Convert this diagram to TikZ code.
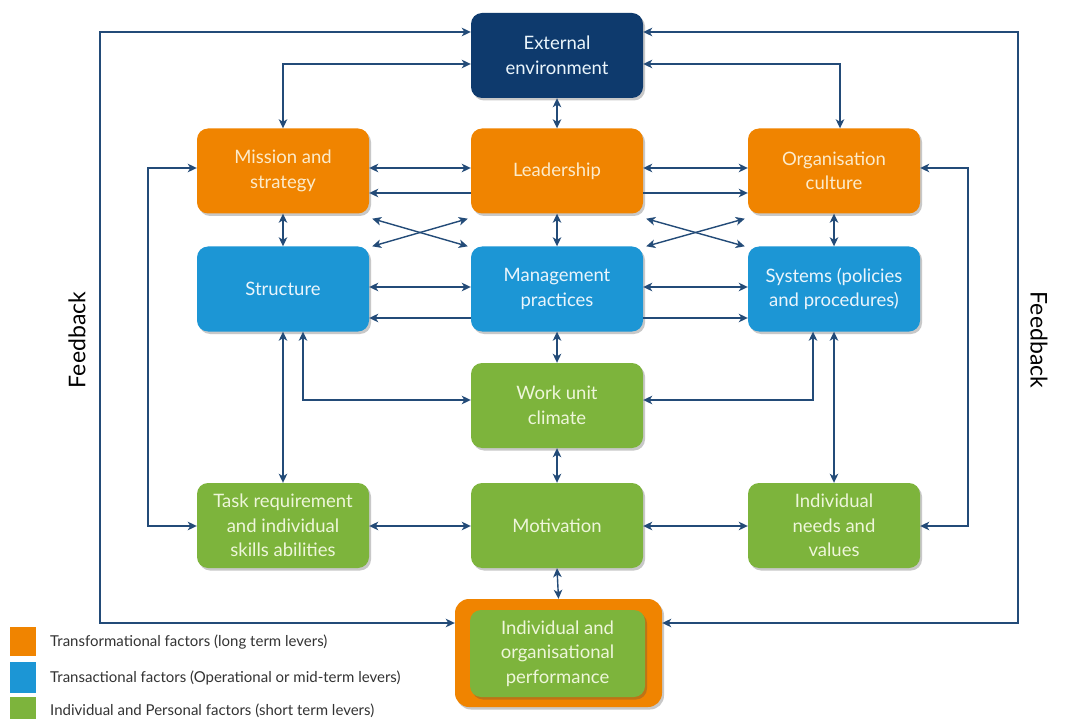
\documentclass[tikz,border=0pt]{standalone}
\usepackage{fontspec}
\setmainfont{Lato}
\usetikzlibrary{arrows.meta,shadows,calc}
\definecolor{navyc}{HTML}{0E3A6D}
\definecolor{orgc}{HTML}{F08400}
\definecolor{bluec}{HTML}{1C96D5}
\definecolor{greenc}{HTML}{7DB43C}
\definecolor{orgtext}{HTML}{FCEBCB}
\definecolor{greentext}{HTML}{EEF6DA}
\definecolor{bluetext}{HTML}{EAF5FC}
\definecolor{linec}{HTML}{234B78}
\definecolor{legtext}{HTML}{333333}
\begin{document}
\begin{tikzpicture}[x=1pt,y=-1pt,
  box/.style={rounded corners=11pt, minimum width=172pt, minimum height=85pt,
    align=center, inner sep=0pt, font=\fontsize{18.5}{24.5}\selectfont,
    drop shadow={shadow xshift=2pt,shadow yshift=-2.5pt,opacity=0.3,fill=black!70}},
  nb/.style={box, fill=navyc, text=bluetext},
  ob/.style={box, fill=orgc, text=orgtext},
  bb/.style={box, fill=bluec, text=bluetext},
  gb/.style={box, fill=greenc, text=greentext},
  con/.style={draw=linec, line width=1.4pt, -{Stealth[length=9pt,width=8.5pt,inset=2.5pt]}},
  bi/.style={draw=linec, line width=1.4pt, {Stealth[length=9pt,width=8.5pt,inset=2.5pt]}-{Stealth[length=9pt,width=8.5pt,inset=2.5pt]}},
  fb/.style={font=\fontsize{23}{27}\selectfont, text=black},
  legbox/.style={minimum width=26pt, inner sep=0pt},
  legtxt/.style={anchor=west, font=\fontsize{15}{16}\selectfont, text=legtext, inner sep=0pt}
]
\useasboundingbox[fill=white] (0,0) rectangle (1068,719);

% helper levels
\coordinate (h32) at (0,32);
\coordinate (h64) at (0,64);
\coordinate (h168) at (0,168);
\coordinate (h193) at (0,193);
\coordinate (h287) at (0,287);
\coordinate (h318) at (0,318);
\coordinate (h400) at (0,400);
\coordinate (h525) at (0,526);
\coordinate (h623) at (0,623);
\coordinate (v100) at (100,0);
\coordinate (v148) at (148,0);
\coordinate (v303) at (303,0);
\coordinate (v813) at (813,0);
\coordinate (v840) at (840,0);
\coordinate (v968) at (968,0);
\coordinate (v1018) at (1018,0);

% boxes
\node[nb] (ext) at (557,55.5) {External\\environment};
\node[ob] (mis) at (283,171) {Mission and\\strategy};
\node[ob] (lea) at (557,171) {Leadership};
\node[ob] (org) at (834,171) {Organisation\\culture};
\node[bb] (str) at (283,289) {Structure};
\node[bb] (man) at (557,289) {Management\\practices};
\node[bb] (sys) at (834,289) {Systems (policies\\and procedures)};
\node[gb] (wuc) at (557,405.5) {Work unit\\climate};
\node[gb] (tas) at (283,525.5) {Task requirement\\and individual\\skills abilities};
\node[gb] (mot) at (557,525.5) {Motivation};
\node[gb] (ind) at (834,525.5) {Individual\\needs and\\values};
\node[fill=orgc, rounded corners=14pt, minimum width=207pt, minimum height=108pt, inner sep=0pt,
  drop shadow={shadow xshift=2pt,shadow yshift=-2.5pt,opacity=0.3,fill=black!70}] (perfo) at (558.5,653) {};
\node[gb, minimum width=175pt, minimum height=87pt] (perf) at (557.5,653.5) {Individual and\\organisational\\performance};

% feedback labels
\node[fb, rotate=90] (fbl) at (77,340) {Feedback};
\node[fb, rotate=-90] (fbr) at (1039,340) {Feedback};

% outer feedback loops
\draw[bi] (ext.west |- h32) -- (v100 |- h32) -- (v100 |- h623) -- (perfo.west |- h623);
\draw[bi] (ext.east |- h32) -- (v1018 |- h32) -- (v1018 |- h623) -- (perfo.east |- h623);

% external links
\draw[bi] (ext.west |- h64) -- (mis.north |- h64) -- (mis.north);
\draw[bi] (ext.east |- h64) -- (v840 |- h64) -- (v840 |- org.north);
\draw[bi] (ext.south) -- (lea.north);

% row 1 links
\draw[bi] (mis.east |- h168) -- (lea.west |- h168);
\draw[con] (lea.west |- h193) -- (mis.east |- h193);
\draw[bi] (lea.east |- h168) -- (org.west |- h168);
\draw[con] (lea.east |- h193) -- (org.west |- h193);

% crosses
\draw[bi] ($(mis.south east)+(3,5)$) -- ($(man.north west)+(-3,0)$);
\draw[bi] ($(str.north east)+(3,0)$) -- ($(lea.south west)+(-3,5)$);
\draw[bi] ($(lea.south east)+(3,5)$) -- ($(sys.north west)+(-3,0)$);
\draw[bi] ($(man.north east)+(3,0)$) -- ($(org.south west)+(-3,5)$);

% verticals row1-row2
\draw[bi] (mis.south) -- (str.north);
\draw[bi] (lea.south) -- (man.north);
\draw[bi] (org.south) -- (sys.north);

% row 2 links
\draw[bi] (str.east |- h287) -- (man.west |- h287);
\draw[con] (man.west |- h318) -- (str.east |- h318);
\draw[bi] (man.east |- h287) -- (sys.west |- h287);
\draw[con] (man.east |- h318) -- (sys.west |- h318);

% middle
\draw[bi] (man.south) -- (wuc.north);
\draw[bi] (str.south) -- (tas.north);
\draw[bi] (v303 |- str.south) -- (v303 |- h400) -- (wuc.west |- h400);
\draw[bi] (v813 |- sys.south) -- (v813 |- h400) -- (wuc.east |- h400);
\draw[bi] (sys.south) -- (ind.north);
\draw[bi] (wuc.south) -- (mot.north);

% row 4
\draw[bi] (tas.east |- h525) -- (mot.west |- h525);
\draw[bi] (mot.east |- h525) -- (ind.west |- h525);
\draw[bi] (mot.south) -- (perfo.north);

% inner loops
\draw[bi] (mis.west |- h168) -- (v148 |- h168) -- (v148 |- h525) -- (tas.west |- h525);
\draw[bi] (org.east |- h168) -- (v968 |- h168) -- (v968 |- h525) -- (ind.east |- h525);

% legend
\node[legbox, fill=orgc, minimum height=29pt] (lo) at (23,641) {};
\node[legbox, fill=bluec, minimum height=31pt] (lb) at (23,677) {};
\node[legbox, fill=greenc, minimum height=22pt] (lg) at (23,708) {};
\node[legtxt] (to) at (50,642) {Transformational factors (long term levers)};
\node[legtxt] (tb) at (50,678) {Transactional factors (Operational or mid-term levers)};
\node[legtxt] (tg) at (50,711) {Individual and Personal factors (short term levers)};
\end{tikzpicture}
\end{document}
